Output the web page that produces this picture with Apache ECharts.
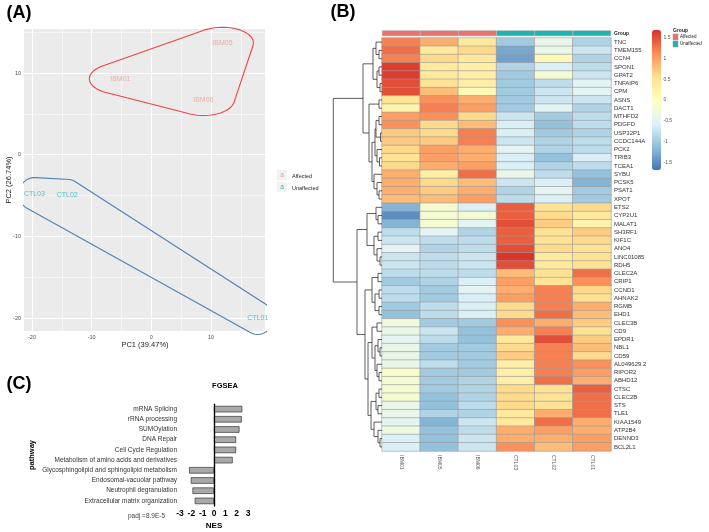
<!DOCTYPE html>
<html>
<head>
<meta charset="utf-8">
<script src="https://cdn.jsdelivr.net/npm/echarts@6/dist/echarts.min.js"></script>
<style>html,body{margin:0;padding:0;background:#fff}#main{width:709px;height:532px}</style>
</head>
<body>
<div id="main"></div>
<script>
// ---- panel A : PCA ----
var samples = ['IBM01', 'IBM05', 'IBM06', 'CTL03', 'CTL02', 'CTL01'];
var groups = ['Affected', 'Affected', 'Affected', 'Unaffected', 'Unaffected', 'Unaffected'];
var pc1 = [-5.2, 11.9, 8.7, -19.6, -14.1, 17.8];
var pc2 = [9.3, 13.7, 6.7, -4.8, -5.0, -20.0];
var pcTicks = [-20, -10, 0, 10];
var pcMinor = [-15, -5, 5, 15];

// ---- panel B : heatmap (z-scores, columns in samples order) ----
var genes = ['TNC', 'TMEM155', 'CCN4', 'SPON1', 'GPAT2', 'TNFAIP6', 'CPM', 'ASNS', 'DACT1', 'MTHFD2',
  'PDGFD', 'USP32P1', 'CCDC144A', 'PCK2', 'TRIB3', 'TCEA1', 'SYBU', 'PCSK5', 'PSAT1', 'XPOT',
  'ETS2', 'CYP2U1', 'MALAT1', 'SH3RF1', 'KIF1C', 'ANO4', 'LINC01085', 'RDH5', 'CLEC2A', 'CRIP1',
  'CCND1', 'AHNAK2', 'RGMB', 'EHD1', 'CLEC3B', 'CD9', 'EPDR1', 'NBL1', 'CD59', 'AL049629.2',
  'RIPOR2', 'ABHD12', 'CTSC', 'CLEC2B', 'STS', 'TLE1', 'KIAA1549', 'ATP2B4', 'DENND3', 'BCL2L1'];
var zscores = [
  [1.2, 0.9, 0.4, -1.0, -0.4, -0.9],
  [1.3, 0.4, 0.6, -1.3, -0.4, -0.7],
  [1.2, 0.6, 0.4, -1.35, 0.1, -0.9],
  [1.6, 0.4, 0.3, -0.9, -0.6, -0.8],
  [1.6, 0.4, 0.3, -1.0, -0.2, -0.7],
  [1.5, 0.5, 0.3, -1.0, -0.8, -0.5],
  [1.5, 0.8, 0.1, -1.0, -0.7, -0.5],
  [0.5, 1.1, 0.9, -1.0, -0.7, -0.7],
  [0.2, 1.2, 1.0, -1.0, -0.5, -0.9],
  [1.0, 1.1, 0.6, -0.7, -1.0, -0.8],
  [1.1, 0.6, 0.8, -0.6, -1.1, -0.8],
  [0.7, 0.6, 1.2, -0.6, -1.0, -0.9],
  [0.7, 0.7, 1.2, -0.7, -0.9, -0.8],
  [0.6, 1.0, 0.9, -0.5, -0.9, -0.8],
  [0.5, 1.0, 0.9, -0.6, -1.1, -0.6],
  [0.6, 0.9, 1.0, -0.6, -0.9, -0.8],
  [0.9, 0.3, 1.3, -0.4, -0.8, -1.1],
  [0.9, 0.6, 0.8, -0.7, -0.6, -1.2],
  [0.9, 0.7, 0.9, -0.9, -0.5, -1.0],
  [0.8, 0.8, 1.0, -0.8, -0.6, -1.0],
  [-1.2, -0.2, -0.6, 1.4, 0.5, 0.6],
  [-1.5, -0.2, -0.2, 1.4, 0.6, 0.4],
  [-1.2, -0.2, -0.5, 1.5, 0.7, 0.2],
  [-0.8, -0.5, -0.9, 1.4, 0.5, 0.7],
  [-0.7, -0.8, -0.8, 1.4, 0.5, 0.6],
  [-0.5, -0.9, -0.8, 1.5, 0.6, 0.5],
  [-0.7, -0.8, -0.7, 1.65, 0.4, 0.5],
  [-0.7, -0.8, -0.7, 1.5, 0.4, 0.5],
  [-0.8, -0.8, -0.8, 0.8, 0.5, 1.3],
  [-1.0, -0.9, -0.6, 1.0, 0.5, 1.1],
  [-0.8, -1.0, -0.5, 0.9, 1.2, 0.6],
  [-0.8, -1.0, -0.6, 1.0, 1.2, 0.5],
  [-1.0, -0.8, -0.6, 0.6, 1.2, 0.9],
  [-1.1, -0.8, -0.6, 0.6, 1.3, 0.8],
  [-0.3, -1.0, -1.0, 1.1, 0.9, 0.7],
  [-0.4, -0.7, -1.1, 0.9, 1.2, 0.5],
  [-0.5, -0.8, -1.1, 0.4, 1.5, 0.7],
  [-0.4, -1.0, -1.0, 0.6, 1.2, 0.8],
  [-0.4, -1.0, -1.0, 0.7, 1.2, 0.6],
  [-0.4, -0.8, -1.0, 0.3, 1.2, 1.1],
  [-0.1, -1.0, -1.0, 0.3, 1.2, 1.0],
  [-0.2, -1.0, -0.9, 0.3, 1.3, 0.9],
  [-0.2, -1.0, -0.9, 0.6, 0.5, 1.4],
  [-0.2, -1.1, -0.9, 0.6, 0.5, 1.3],
  [-0.4, -1.1, -0.8, 0.6, 0.5, 1.3],
  [-0.4, -0.9, -0.9, 0.4, 0.9, 1.3],
  [-0.5, -1.2, -0.7, 0.4, 1.3, 0.9],
  [-0.3, -1.1, -0.8, 0.9, 1.0, 0.9],
  [-0.6, -1.1, -0.7, 0.9, 0.9, 1.0],
  [-0.6, -1.1, -0.7, 1.1, 0.8, 1.0]
];
var scaleTicks = [-1.5, -1, -0.5, 0, 0.5, 1, 1.5];
// row dendrogram: [height, left, right], leaves are row numbers
var dendro = [48.7,
  [19,
    [9, [6, 0, [3, 1, 2]], [5, [3, 3, 4], [2, 5, 6]]],
    [13, [3, 7, 8], [10, [7, [6, [3, 9, 10], [1.5, 11, 12]], [5, 13, [2.5, 14, 15]]], [8, 16, [5, 17, [3, 18, 19]]]]]
  ],
  [25,
    [15, [6, 20, [4, 21, 22]], [8, [4, 23, 24], [5, 25, [2, 26, 27]]]],
    [17,
      [10, [4, 28, 29], [7, [3, 30, 31], [3, 32, 33]]],
      [14,
        [10, [5, 34, 35], [7, [4, 36, [2, 37, 38]], [5, 39, [3, 40, 41]]]],
        [11, [6, [3, 42, 43], [4, 44, 45]], [8, 46, [4, 47, [2, 48, 49]]]]
      ]
    ]
  ]
];

// ---- panel C : FGSEA ----
var pathways = ['mRNA Splicing', 'rRNA processing', 'SUMOylation', 'DNA Repair', 'Cell Cycle Regulation',
  'Metabolism of amino acids and derivatives', 'Glycosphingolipid and sphingolipid metabolism',
  'Endosomal-vacuolar pathway', 'Neutrophil degranulation', 'Extracellular matrix organization'];
var nes = [2.5, 2.45, 2.25, 1.95, 1.95, 1.65, -2.2, -2.05, -1.9, -1.7];

var FONT = 'Liberation Sans';
var groupColor = { Affected: '#EA746D', Unaffected: '#1FB3AF' };
var labelColor = { Affected: '#F29B94', Unaffected: '#2BB7BF' };
var hullColor = { Affected: '#EE4444', Unaffected: '#5080B5' };
var hullPad = { Affected: [5.2, 1.9], Unaffected: [2.6, 2.0] };
var xRange = [-21.34, 19.03], yRange = [-21.58, 15.39];

// convex hull of small ellipses round each point (encircle style)
function encircle(xs, ys, ex, ey) {
  var pts = [];
  for (var i = 0; i < xs.length; i++) {
    for (var k = 0; k < 72; k++) {
      var a = k / 72 * Math.PI * 2;
      pts.push([xs[i] + ex * Math.cos(a), ys[i] + ey * Math.sin(a)]);
    }
  }
  pts.sort(function (p, q) { return p[0] - q[0] || p[1] - q[1]; });
  function cross(o, a, b) { return (a[0] - o[0]) * (b[1] - o[1]) - (a[1] - o[1]) * (b[0] - o[0]); }
  var lower = [], upper = [];
  pts.forEach(function (p) {
    while (lower.length >= 2 && cross(lower[lower.length - 2], lower[lower.length - 1], p) <= 0) lower.pop();
    lower.push(p);
  });
  for (var j = pts.length - 1; j >= 0; j--) {
    var p = pts[j];
    while (upper.length >= 2 && cross(upper[upper.length - 2], upper[upper.length - 1], p) <= 0) upper.pop();
    upper.push(p);
  }
  var h = lower.slice(0, -1).concat(upper.slice(0, -1));
  h.push(h[0]);
  return h;
}

function walk(node, segs) {
  if (typeof node === 'number') return { y: node + 0.5, h: 0 };
  var a = walk(node[1], segs), b = walk(node[2], segs);
  segs.push({ coords: [[a.h, a.y], [node[0], a.y], [node[0], b.y], [b.h, b.y]] });
  return { y: (a.y + b.y) / 2, h: node[0] };
}

var chart = echarts.init(document.getElementById('main'), null, { renderer: 'canvas' });

var hullSeries = [], labelSeries = [];
['Affected', 'Unaffected'].forEach(function (g) {
  var xs = [], ys = [], items = [];
  samples.forEach(function (s, i) {
    if (groups[i] !== g) return;
    xs.push(pc1[i]); ys.push(pc2[i]);
    items.push({ name: s, value: [pc1[i], pc2[i]] });
  });
  hullSeries.push({
    type: 'line', xAxisIndex: 0, yAxisIndex: 0, z: 3,
    data: encircle(xs, ys, hullPad[g][0], hullPad[g][1]),
    showSymbol: false, clip: false, silent: true,
    lineStyle: { color: hullColor[g], width: 1.1 }
  });
  labelSeries.push({
    type: 'scatter', xAxisIndex: 0, yAxisIndex: 0, z: 4,
    data: items, symbolSize: 1, itemStyle: { color: 'transparent' },
    label: { show: true, position: 'inside', formatter: '{b}', color: labelColor[g], fontSize: 7, fontFamily: FONT }
  });
});

// panel background grid (ggplot style): major and minor white lines
var majorLines = [], minorLines = [];
pcTicks.forEach(function (v) {
  majorLines.push({ coords: [[v, yRange[0]], [v, yRange[1]]] });
  majorLines.push({ coords: [[xRange[0], v], [xRange[1], v]] });
});
pcMinor.forEach(function (v) {
  minorLines.push({ coords: [[v, yRange[0]], [v, yRange[1]]] });
  minorLines.push({ coords: [[xRange[0], v], [xRange[1], v]] });
});

var heatData = [];
zscores.forEach(function (row, r) {
  row.forEach(function (v, c) { heatData.push([c, r, v]); });
});

var dendroSegs = [];
walk(dendro, dendroSegs);

function txt(x, y, text, size, opts) {
  opts = opts || {};
  return {
    type: 'text', x: x, y: y, rotation: opts.rotation || 0, silent: true,
    style: {
      text: text, fontSize: size, fontFamily: FONT, fontWeight: opts.bold ? 'bold' : 'normal',
      fill: opts.color || '#222',
      textAlign: opts.align || 'center', textVerticalAlign: 'middle',
      align: opts.align || 'center', verticalAlign: 'middle'
    }
  };
}
function box(x, y, w, h, color, stroke) {
  return { type: 'rect', silent: true, shape: { x: x, y: y, width: w, height: h },
    style: { fill: color, stroke: stroke || null, lineWidth: stroke ? 0.5 : 0 } };
}

var hidden = { show: false };
var option = {
  animation: false,
  textStyle: { fontFamily: FONT },
  grid: [
    { left: 24, top: 29, width: 241, height: 302, show: true, backgroundColor: '#EBEBEB', borderWidth: 0, outerBoundsMode: 'none' },
    { left: 382, top: 38, width: 229, height: 413, outerBoundsMode: 'none' },
    { left: 382, top: 30.5, width: 229, height: 5.5, outerBoundsMode: 'none' },
    { left: 333, top: 38, width: 49, height: 413, outerBoundsMode: 'none' },
    { left: 652, top: 30, width: 9, height: 140, outerBoundsMode: 'none' },
    { left: 180, top: 404, width: 68, height: 102, outerBoundsMode: 'none' }
  ],
  xAxis: [
    { type: 'value', gridIndex: 0, min: xRange[0], max: xRange[1], axisLine: hidden, splitLine: hidden,
      axisTick: { show: true, customValues: pcTicks, length: 2.5, lineStyle: { color: '#333', width: 0.8 } },
      axisLabel: { customValues: pcTicks, fontSize: 5.5, color: '#4D4D4D', margin: 3 } },
    { type: 'category', gridIndex: 1, data: samples, axisLine: hidden, axisTick: hidden,
      axisLabel: { rotate: -90, fontSize: 5, color: '#555', margin: 4, interval: 0 } },
    { type: 'category', gridIndex: 2, data: samples, show: false },
    { type: 'value', gridIndex: 3, min: 0, max: 49, inverse: true, show: false },
    { type: 'category', gridIndex: 4, data: [''], show: false },
    { type: 'value', gridIndex: 5, min: -3, max: 3, interval: 1, splitLine: hidden,
      axisLine: { lineStyle: { color: '#000', width: 1.2 } },
      axisTick: { length: 3, lineStyle: { color: '#000', width: 1 } },
      axisLabel: { fontSize: 8.5, fontWeight: 'bold', color: '#000', margin: 3 } }
  ],
  yAxis: [
    { type: 'value', gridIndex: 0, min: yRange[0], max: yRange[1], axisLine: hidden, splitLine: hidden,
      axisTick: { show: true, customValues: pcTicks, length: 2.5, lineStyle: { color: '#333', width: 0.8 } },
      axisLabel: { customValues: pcTicks, fontSize: 5.5, color: '#4D4D4D', margin: 3 } },
    { type: 'category', gridIndex: 1, data: genes, inverse: true, position: 'right', axisLine: hidden, axisTick: hidden,
      axisLabel: { fontSize: 6, color: '#333', margin: 3, interval: 0 } },
    { type: 'value', gridIndex: 2, min: 0, max: 1, show: false },
    { type: 'value', gridIndex: 3, min: 0, max: 50, inverse: true, show: false },
    { type: 'value', gridIndex: 4, min: -1.68, max: 1.68, position: 'right', axisLine: hidden, axisTick: hidden, splitLine: hidden,
      axisLabel: { customValues: scaleTicks, fontSize: 5, color: '#555', margin: 2.5 } },
    { type: 'category', gridIndex: 5, data: pathways, inverse: true,
      axisLine: { lineStyle: { color: '#000', width: 1.2 } },
      axisTick: { alignWithLabel: true, length: 3, lineStyle: { color: '#000', width: 1 } },
      axisLabel: { fontSize: 6.5, color: '#333', margin: 3, interval: 0 } }
  ],
  visualMap: {
    type: 'continuous', seriesIndex: 6, min: -1.68, max: 1.68, calculable: false,
    left: 652, top: 30, itemWidth: 9, itemHeight: 140, padding: 0, text: null,
    inRange: { color: ['#4575B4', '#91BFDB', '#E0F3F8', '#FFFFBF', '#FEE090', '#FC8D59', '#D73027'] }
  },
  series: [
    { type: 'lines', coordinateSystem: 'cartesian2d', xAxisIndex: 0, yAxisIndex: 0, z: 1, silent: true,
      lineStyle: { color: '#FFFFFF', width: 1.1, opacity: 1 }, data: majorLines },
    { type: 'lines', coordinateSystem: 'cartesian2d', xAxisIndex: 0, yAxisIndex: 0, z: 1, silent: true,
      lineStyle: { color: '#FFFFFF', width: 0.5, opacity: 1 }, data: minorLines },
    hullSeries[0], hullSeries[1], labelSeries[0], labelSeries[1],
    { type: 'heatmap', xAxisIndex: 1, yAxisIndex: 1, data: heatData,
      itemStyle: { borderColor: '#9A9A9A', borderWidth: 0.6 }, emphasis: { disabled: true } },
    { type: 'bar', xAxisIndex: 2, yAxisIndex: 2, barCategoryGap: '0%', silent: true,
      itemStyle: { borderColor: '#9A9A9A', borderWidth: 0.5 },
      data: groups.map(function (g) { return { value: 1, itemStyle: { color: groupColor[g] } }; }) },
    { type: 'lines', coordinateSystem: 'cartesian2d', xAxisIndex: 3, yAxisIndex: 3, polyline: true, silent: true,
      lineStyle: { color: '#333', width: 0.8, opacity: 1 }, data: dendroSegs },
    { type: 'scatter', xAxisIndex: 4, yAxisIndex: 4, data: [] },
    { type: 'bar', xAxisIndex: 5, yAxisIndex: 5, data: nes, barWidth: 6.5, silent: true,
      itemStyle: { color: '#A9A9A9', borderColor: '#333', borderWidth: 0.7 },
      markLine: { silent: true, symbol: 'none', label: { show: false },
        lineStyle: { color: '#000', width: 1.2, type: 'solid' }, data: [{ xAxis: 0 }] } }
  ],
  graphic: [
    txt(19, 13, '(A)', 18, { bold: true, color: '#000' }),
    txt(343, 12, '(B)', 18, { bold: true, color: '#000' }),
    txt(19, 384, '(C)', 18, { bold: true, color: '#000' }),
    txt(9, 180, 'PC2 (26.74%)', 7.5, { rotation: Math.PI / 2 }),
    txt(145, 345, 'PC1 (39.47%)', 7.5),
    box(277, 170, 10, 10, '#F2F2F2'),
    txt(282, 175.5, 'a', 6.5, { color: labelColor.Affected }),
    box(277, 182, 10, 10, '#F2F2F2'),
    txt(282, 187.5, 'a', 6.5, { color: labelColor.Unaffected }),
    txt(292, 176, 'Affected', 5.5, { align: 'left' }),
    txt(292, 188, 'Unaffected', 5.5, { align: 'left' }),
    txt(614, 33.5, 'Group', 5, { bold: true, align: 'left' }),
    txt(673, 31, 'Group', 5, { bold: true, align: 'left' }),
    box(673, 34, 5, 6, groupColor.Affected, '#999'),
    box(673, 41, 5, 6, groupColor.Unaffected, '#999'),
    txt(680, 37, 'Affected', 4.5, { align: 'left' }),
    txt(680, 44, 'Unaffected', 4.5, { align: 'left' }),
    txt(225, 386, 'FGSEA', 7.5, { bold: true, color: '#000' }),
    txt(214, 526, 'NES', 8, { bold: true, color: '#000' }),
    txt(32, 455, 'pathway', 7.5, { bold: true, color: '#000', rotation: Math.PI / 2 }),
    txt(128, 516, 'padj =8.9E-5', 6.5, { align: 'left', color: '#444' })
  ]
};
chart.setOption(option);
</script>
</body>
</html>
